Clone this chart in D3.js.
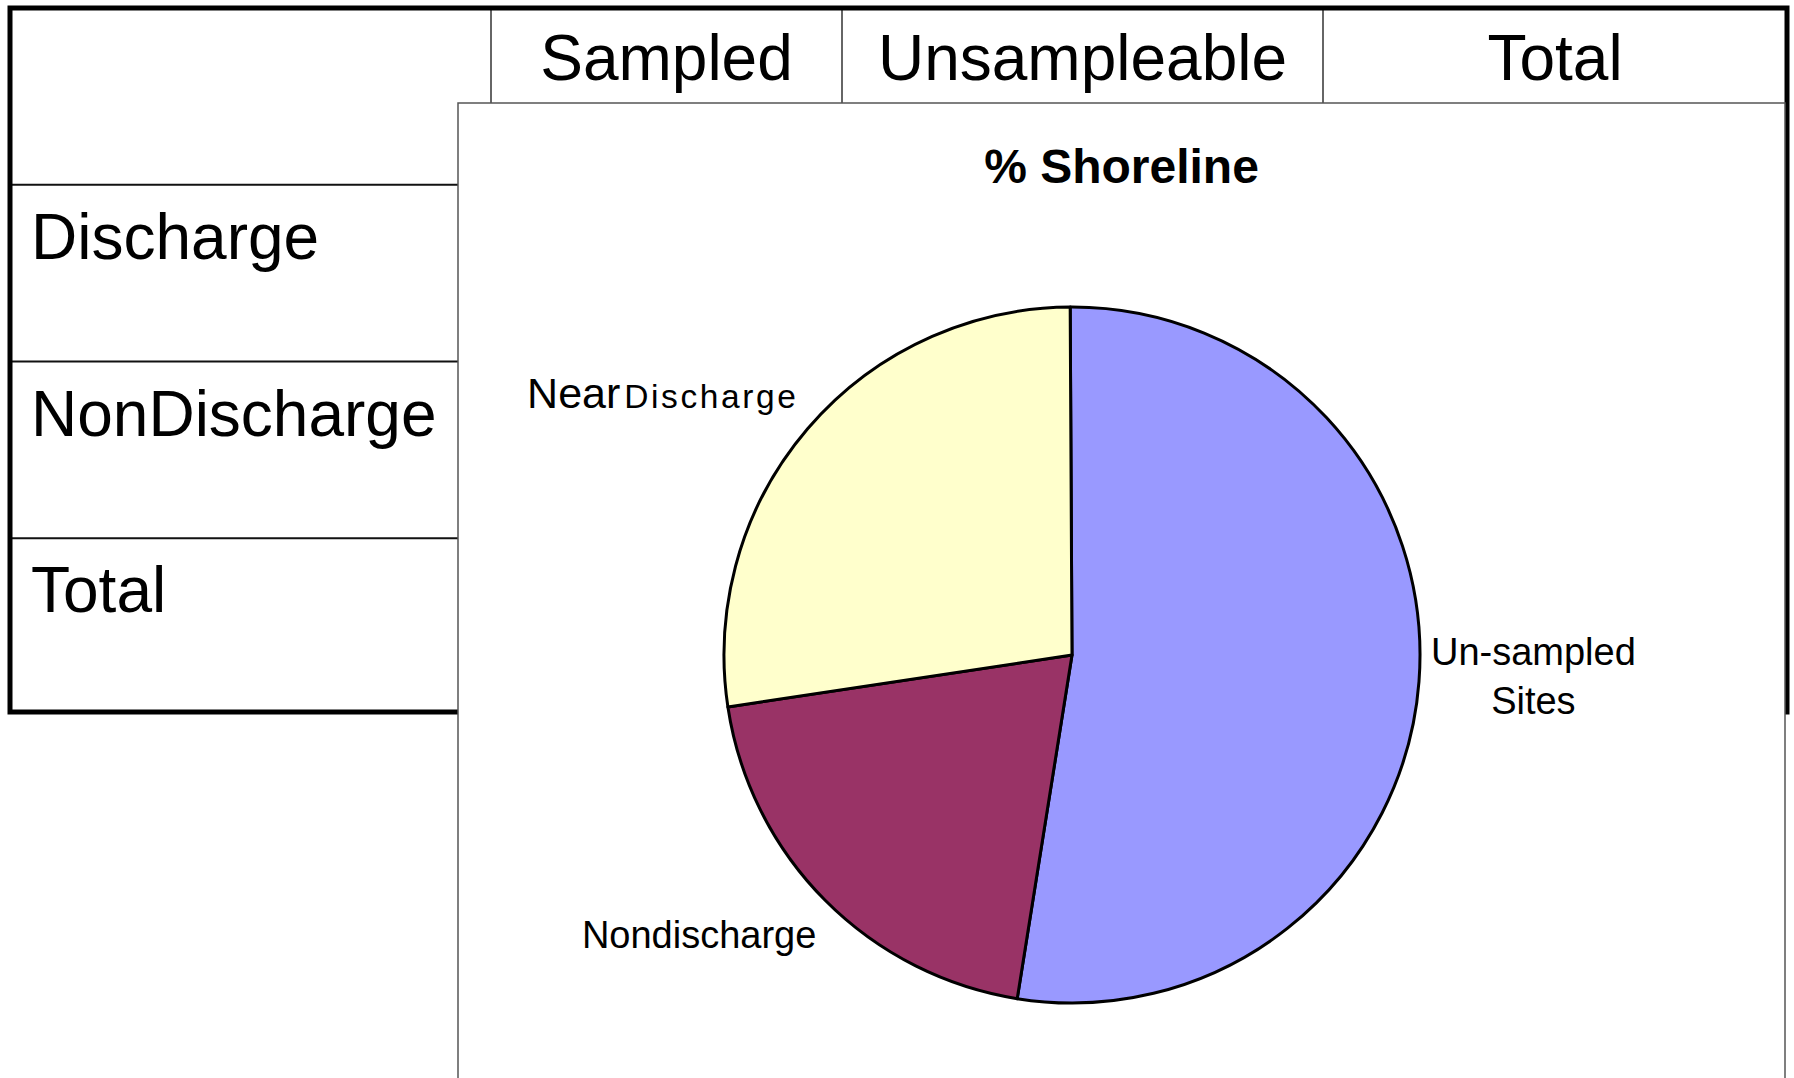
<!DOCTYPE html>
<html>
<head>
<meta charset="utf-8">
<script src="https://cdn.jsdelivr.net/npm/d3@7"></script>
<style>
  body { margin: 0; background: #fff; }
  text { font-family: "Liberation Sans", Arial, sans-serif; fill: #000; }
</style>
</head>
<body>
<script>
// table text
let colLabels = ["Sampled", "Unsampleable", "Total"];
let rowLabels = ["Discharge", "NonDischarge", "Total"];

// pie: % Shoreline
let chartTitle = "% Shoreline";
let sliceLabels = ["Un-sampled Sites", "Nondischarge", "NearDischarge"];
let sliceValues = [52.6, 20.1, 27.3];
let sliceColors = ["#9999FF", "#993366", "#FFFFCC"];

let width = 1794;
let height = 1078;

let svg = d3.select("body").append("svg")
    .attr("width", width)
    .attr("height", height);

// ---- table behind the chart ----
let tableLeft = 10, tableTop = 8, tableRight = 1787, tableBottom = 712;
let colEdges = [tableLeft, 491, 842, 1323, tableRight];

let rowScale = d3.scaleBand()
    .domain(d3.range(rowLabels.length + 1))
    .range([tableTop, tableBottom + 3]);

let table = svg.append("g").attr("id", "tableG");

// column separators in the header row
table.selectAll("line.col")
    .data(colEdges.slice(1, -1))
    .join("line")
    .attr("class", "col")
    .attr("x1", d => d).attr("x2", d => d)
    .attr("y1", tableTop).attr("y2", rowScale(1))
    .attr("stroke", "#333")
    .attr("stroke-width", 1.5);

// row separators
table.selectAll("line.row")
    .data(d3.range(1, rowLabels.length + 1))
    .join("line")
    .attr("class", "row")
    .attr("x1", tableLeft).attr("x2", tableRight)
    .attr("y1", d => rowScale(d)).attr("y2", d => rowScale(d))
    .attr("stroke", "#111")
    .attr("stroke-width", 2);

table.selectAll("text.colLabel")
    .data(colLabels)
    .join("text")
    .attr("class", "colLabel")
    .attr("x", (d, i) => (colEdges[i + 1] + colEdges[i + 2]) / 2)
    .attr("y", tableTop + 72)
    .attr("text-anchor", "middle")
    .style("font-size", "64px")
    .text(d => d);

table.selectAll("text.rowLabel")
    .data(rowLabels)
    .join("text")
    .attr("class", "rowLabel")
    .attr("x", tableLeft + 21)
    .attr("y", (d, i) => rowScale(i + 1) + 74)
    .style("font-size", "64px")
    .text(d => d);

table.append("rect")
    .attr("x", tableLeft).attr("y", tableTop)
    .attr("width", tableRight - tableLeft)
    .attr("height", tableBottom - tableTop)
    .attr("fill", "none")
    .attr("stroke", "#000")
    .attr("stroke-width", 5);

// ---- chart area on top ----
let chartX = 458, chartY = 103;
let chartW = 1327, chartH = 1100;

let chart = svg.append("g").attr("id", "chartG");

chart.append("rect")
    .attr("x", chartX).attr("y", chartY)
    .attr("width", chartW).attr("height", chartH)
    .attr("fill", "#fff")
    .attr("stroke", "#555")
    .attr("stroke-width", 1.5);

chart.append("text")
    .attr("x", chartX + chartW / 2)
    .attr("y", 183)
    .attr("text-anchor", "middle")
    .style("font-size", "48px")
    .style("font-weight", "bold")
    .text(chartTitle);

let cx = 1072, cy = 655, radius = 348;
let startAngle = -0.3 * Math.PI / 180;

let pie = d3.pie()
    .sort(null)
    .startAngle(startAngle)
    .endAngle(startAngle + 2 * Math.PI)
    .value(d => d.value);

let slices = pie(sliceLabels.map((label, i) => ({label: label, value: sliceValues[i], color: sliceColors[i]})));

let arc = d3.arc()
    .innerRadius(0)
    .outerRadius(radius);

let pieG = chart.append("g")
    .attr("transform", "translate(" + cx + "," + cy + ")");

pieG.selectAll("path")
    .data(slices)
    .join("path")
    .attr("d", arc)
    .attr("fill", d => d.data.color)
    .attr("stroke", "#000")
    .attr("stroke-width", 3)
    .attr("stroke-linejoin", "round");

// data labels outside the pie, Excel style
let labelSize = 38;
let lineH = 49;
let gap = 12;

slices.forEach(function(d) {
    let mid = (d.startAngle + d.endAngle) / 2;
    let px = Math.sin(mid) * (radius + gap);
    let py = -Math.cos(mid) * (radius + gap);

    let label = d.data.label;
    let lines = label.indexOf(" ") > 0 ? label.split(" ") : [label];
    let boxH = (lines.length - 1) * lineH + 1.12 * labelSize;
    let top = py - boxH / 2 - 36 * Math.cos(mid);
    let right = Math.sin(mid) > 0;

    let t = pieG.append("text")
        .attr("class", "sliceLabel")
        .style("font-size", labelSize + "px");

    if (lines.length > 1) {
        // multi-line: centred under each other, box starts at px
        top -= lineH * 0.2;
        let tmp = t.append("tspan").text(lines[0]);
        let w = t.node().getComputedTextLength();
        tmp.remove();
        t.attr("text-anchor", "middle");
        lines.forEach(function(line, j) {
            t.append("tspan")
                .attr("x", right ? px + w / 2 : px - w / 2)
                .attr("y", top + 0.93 * labelSize + j * lineH)
                .text(line);
        });
    } else if (/^Near/.test(label)) {
        // "Near" rendered larger than the rest, like the source
        let parts = label.split(/(?=D)/);
        t.attr("text-anchor", right ? "start" : "end")
            .attr("x", px)
            .attr("y", top + 0.93 * labelSize - 4);
        t.append("tspan").style("font-size", "43px").text(parts[0]);
        t.append("tspan").attr("dx", 4).style("font-size", "33.5px").style("letter-spacing", "2.6px").text(parts[1]);
    } else {
        t.attr("text-anchor", right ? "start" : "end")
            .attr("x", px)
            .attr("y", top + 0.93 * labelSize)
            .text(label);
    }
});
</script>
</body>
</html>
